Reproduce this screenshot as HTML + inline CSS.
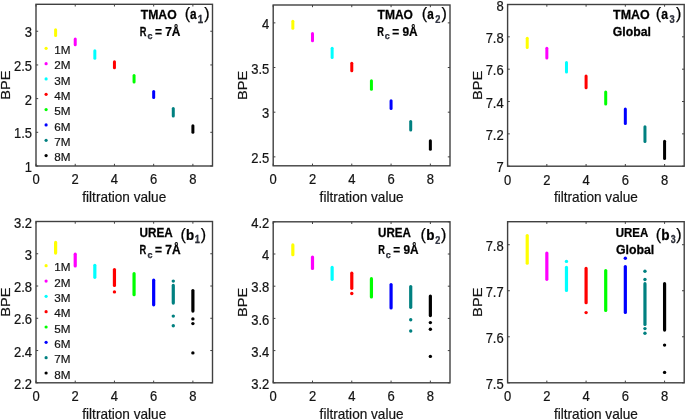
<!DOCTYPE html>
<html><head><meta charset="utf-8"><title>BPE vs filtration value</title>
<style>
html,body{margin:0;padding:0;background:#fff;}
body{width:685px;height:420px;overflow:hidden;}
svg{display:block;will-change:transform;}
text{font-family:"Liberation Sans",sans-serif;}
.tk,.lab,.lg{stroke:#141414;stroke-width:0.2px;}
.tk{font-size:13px;fill:#141414;}
.lab{font-size:14px;fill:#141414;}
.lg{font-size:11.7px;fill:#141414;}
.tt{font-size:12px;font-weight:bold;fill:#000;stroke:#000;stroke-width:0.25px;}
.tp{font-size:14px;font-weight:bold;fill:#000;}
.sb{font-size:10.5px;fill:#1c2d4a;}
.sc{font-size:10px;fill:#1c2d4a;}
</style></head>
<body>
<svg width="685" height="420" viewBox="0 0 685 420">
<rect x="0" y="0" width="685" height="420" fill="#fff"/>
<line x1="55.61" y1="29.7" x2="55.61" y2="35.6" stroke="#ffff00" stroke-width="3.0" stroke-linecap="round"/>
<line x1="75.22" y1="39" x2="75.22" y2="44.8" stroke="#ff00ff" stroke-width="3.0" stroke-linecap="round"/>
<line x1="94.83" y1="50.7" x2="94.83" y2="58.2" stroke="#00ffff" stroke-width="3.0" stroke-linecap="round"/>
<line x1="114.44" y1="61.8" x2="114.44" y2="67.7" stroke="#ff0000" stroke-width="3.0" stroke-linecap="round"/>
<line x1="134.06" y1="75.5" x2="134.06" y2="82.1" stroke="#00ff00" stroke-width="3.0" stroke-linecap="round"/>
<line x1="153.67" y1="91.4" x2="153.67" y2="97.6" stroke="#0000ff" stroke-width="3.0" stroke-linecap="round"/>
<line x1="173.28" y1="108.6" x2="173.28" y2="115.9" stroke="#008080" stroke-width="3.0" stroke-linecap="round"/>
<line x1="192.89" y1="125.7" x2="192.89" y2="132.3" stroke="#000000" stroke-width="3.0" stroke-linecap="round"/>
<rect x="36" y="4.3" width="176.5" height="161.7" fill="none" stroke="#404040" stroke-width="1.4"/>
<line x1="36" y1="166" x2="36" y2="163.8" stroke="#404040" stroke-width="1"/>
<line x1="36" y1="4.3" x2="36" y2="6.5" stroke="#404040" stroke-width="1"/>
<text text-anchor="middle" class="tk" transform="translate(36 184.4) scale(1 1.1)">0</text>
<line x1="75.22" y1="166" x2="75.22" y2="163.8" stroke="#404040" stroke-width="1"/>
<line x1="75.22" y1="4.3" x2="75.22" y2="6.5" stroke="#404040" stroke-width="1"/>
<text text-anchor="middle" class="tk" transform="translate(75.22 184.4) scale(1 1.1)">2</text>
<line x1="114.44" y1="166" x2="114.44" y2="163.8" stroke="#404040" stroke-width="1"/>
<line x1="114.44" y1="4.3" x2="114.44" y2="6.5" stroke="#404040" stroke-width="1"/>
<text text-anchor="middle" class="tk" transform="translate(114.44 184.4) scale(1 1.1)">4</text>
<line x1="153.67" y1="166" x2="153.67" y2="163.8" stroke="#404040" stroke-width="1"/>
<line x1="153.67" y1="4.3" x2="153.67" y2="6.5" stroke="#404040" stroke-width="1"/>
<text text-anchor="middle" class="tk" transform="translate(153.67 184.4) scale(1 1.1)">6</text>
<line x1="192.89" y1="166" x2="192.89" y2="163.8" stroke="#404040" stroke-width="1"/>
<line x1="192.89" y1="4.3" x2="192.89" y2="6.5" stroke="#404040" stroke-width="1"/>
<text text-anchor="middle" class="tk" transform="translate(192.89 184.4) scale(1 1.1)">8</text>
<line x1="36" y1="166" x2="38.2" y2="166" stroke="#404040" stroke-width="1"/>
<line x1="212.5" y1="166" x2="210.3" y2="166" stroke="#404040" stroke-width="1"/>
<text text-anchor="end" class="tk" transform="translate(32.1 172.12) scale(1 1.1)">1</text>
<line x1="36" y1="132.31" x2="38.2" y2="132.31" stroke="#404040" stroke-width="1"/>
<line x1="212.5" y1="132.31" x2="210.3" y2="132.31" stroke="#404040" stroke-width="1"/>
<text text-anchor="end" class="tk" transform="translate(32.1 138.43) scale(1 1.1)">1.5</text>
<line x1="36" y1="98.62" x2="38.2" y2="98.62" stroke="#404040" stroke-width="1"/>
<line x1="212.5" y1="98.62" x2="210.3" y2="98.62" stroke="#404040" stroke-width="1"/>
<text text-anchor="end" class="tk" transform="translate(32.1 104.74) scale(1 1.1)">2</text>
<line x1="36" y1="64.94" x2="38.2" y2="64.94" stroke="#404040" stroke-width="1"/>
<line x1="212.5" y1="64.94" x2="210.3" y2="64.94" stroke="#404040" stroke-width="1"/>
<text text-anchor="end" class="tk" transform="translate(32.1 71.05) scale(1 1.1)">2.5</text>
<line x1="36" y1="31.25" x2="38.2" y2="31.25" stroke="#404040" stroke-width="1"/>
<line x1="212.5" y1="31.25" x2="210.3" y2="31.25" stroke="#404040" stroke-width="1"/>
<text text-anchor="end" class="tk" transform="translate(32.1 37.37) scale(1 1.1)">3</text>
<text text-anchor="middle" class="lab" transform="translate(124.25 201.8) scale(0.973 1)">filtration value</text>
<text text-anchor="middle" class="lab" transform="translate(10.2 85.15) rotate(-90) scale(1.046 0.91)">BPE</text>
<line x1="292.84" y1="21.3" x2="292.84" y2="28.2" stroke="#ffff00" stroke-width="3.0" stroke-linecap="round"/>
<line x1="312.49" y1="33.5" x2="312.49" y2="40.8" stroke="#ff00ff" stroke-width="3.0" stroke-linecap="round"/>
<line x1="332.13" y1="48.3" x2="332.13" y2="57.4" stroke="#00ffff" stroke-width="3.0" stroke-linecap="round"/>
<line x1="351.78" y1="63.2" x2="351.78" y2="70.7" stroke="#ff0000" stroke-width="3.0" stroke-linecap="round"/>
<line x1="371.42" y1="80.8" x2="371.42" y2="89.2" stroke="#00ff00" stroke-width="3.0" stroke-linecap="round"/>
<line x1="391.07" y1="100.8" x2="391.07" y2="108.4" stroke="#0000ff" stroke-width="3.0" stroke-linecap="round"/>
<line x1="410.71" y1="121.6" x2="410.71" y2="129.9" stroke="#008080" stroke-width="3.0" stroke-linecap="round"/>
<line x1="430.36" y1="140.8" x2="430.36" y2="149.2" stroke="#000000" stroke-width="3.0" stroke-linecap="round"/>
<rect x="273.2" y="5" width="176.8" height="160.8" fill="none" stroke="#404040" stroke-width="1.4"/>
<line x1="273.2" y1="165.8" x2="273.2" y2="163.6" stroke="#404040" stroke-width="1"/>
<line x1="273.2" y1="5" x2="273.2" y2="7.2" stroke="#404040" stroke-width="1"/>
<text text-anchor="middle" class="tk" transform="translate(273.2 184.2) scale(1 1.1)">0</text>
<line x1="312.49" y1="165.8" x2="312.49" y2="163.6" stroke="#404040" stroke-width="1"/>
<line x1="312.49" y1="5" x2="312.49" y2="7.2" stroke="#404040" stroke-width="1"/>
<text text-anchor="middle" class="tk" transform="translate(312.49 184.2) scale(1 1.1)">2</text>
<line x1="351.78" y1="165.8" x2="351.78" y2="163.6" stroke="#404040" stroke-width="1"/>
<line x1="351.78" y1="5" x2="351.78" y2="7.2" stroke="#404040" stroke-width="1"/>
<text text-anchor="middle" class="tk" transform="translate(351.78 184.2) scale(1 1.1)">4</text>
<line x1="391.07" y1="165.8" x2="391.07" y2="163.6" stroke="#404040" stroke-width="1"/>
<line x1="391.07" y1="5" x2="391.07" y2="7.2" stroke="#404040" stroke-width="1"/>
<text text-anchor="middle" class="tk" transform="translate(391.07 184.2) scale(1 1.1)">6</text>
<line x1="430.36" y1="165.8" x2="430.36" y2="163.6" stroke="#404040" stroke-width="1"/>
<line x1="430.36" y1="5" x2="430.36" y2="7.2" stroke="#404040" stroke-width="1"/>
<text text-anchor="middle" class="tk" transform="translate(430.36 184.2) scale(1 1.1)">8</text>
<line x1="273.2" y1="156.87" x2="275.4" y2="156.87" stroke="#404040" stroke-width="1"/>
<line x1="450" y1="156.87" x2="447.8" y2="156.87" stroke="#404040" stroke-width="1"/>
<text text-anchor="end" class="tk" transform="translate(269.3 162.98) scale(1 1.1)">2.5</text>
<line x1="273.2" y1="112.2" x2="275.4" y2="112.2" stroke="#404040" stroke-width="1"/>
<line x1="450" y1="112.2" x2="447.8" y2="112.2" stroke="#404040" stroke-width="1"/>
<text text-anchor="end" class="tk" transform="translate(269.3 118.31) scale(1 1.1)">3</text>
<line x1="273.2" y1="67.53" x2="275.4" y2="67.53" stroke="#404040" stroke-width="1"/>
<line x1="450" y1="67.53" x2="447.8" y2="67.53" stroke="#404040" stroke-width="1"/>
<text text-anchor="end" class="tk" transform="translate(269.3 73.65) scale(1 1.1)">3.5</text>
<line x1="273.2" y1="22.87" x2="275.4" y2="22.87" stroke="#404040" stroke-width="1"/>
<line x1="450" y1="22.87" x2="447.8" y2="22.87" stroke="#404040" stroke-width="1"/>
<text text-anchor="end" class="tk" transform="translate(269.3 28.98) scale(1 1.1)">4</text>
<text text-anchor="middle" class="lab" transform="translate(361.6 201.6) scale(0.973 1)">filtration value</text>
<text text-anchor="middle" class="lab" transform="translate(247.4 85.4) rotate(-90) scale(1.046 0.91)">BPE</text>
<line x1="527.22" y1="38.3" x2="527.22" y2="47.4" stroke="#ffff00" stroke-width="3.0" stroke-linecap="round"/>
<line x1="546.84" y1="48.3" x2="546.84" y2="58.1" stroke="#ff00ff" stroke-width="3.0" stroke-linecap="round"/>
<line x1="566.47" y1="62.6" x2="566.47" y2="72.1" stroke="#00ffff" stroke-width="3.0" stroke-linecap="round"/>
<line x1="586.09" y1="76" x2="586.09" y2="87.8" stroke="#ff0000" stroke-width="3.0" stroke-linecap="round"/>
<line x1="605.71" y1="91.9" x2="605.71" y2="104.1" stroke="#00ff00" stroke-width="3.0" stroke-linecap="round"/>
<line x1="625.33" y1="109.1" x2="625.33" y2="123.4" stroke="#0000ff" stroke-width="3.0" stroke-linecap="round"/>
<line x1="644.96" y1="126.8" x2="644.96" y2="141.6" stroke="#008080" stroke-width="3.0" stroke-linecap="round"/>
<line x1="664.58" y1="141.2" x2="664.58" y2="158.5" stroke="#000000" stroke-width="3.0" stroke-linecap="round"/>
<rect x="507.6" y="4.5" width="176.6" height="161.7" fill="none" stroke="#404040" stroke-width="1.4"/>
<line x1="507.6" y1="166.2" x2="507.6" y2="164" stroke="#404040" stroke-width="1"/>
<line x1="507.6" y1="4.5" x2="507.6" y2="6.7" stroke="#404040" stroke-width="1"/>
<text text-anchor="middle" class="tk" transform="translate(507.6 184.6) scale(1 1.1)">0</text>
<line x1="546.84" y1="166.2" x2="546.84" y2="164" stroke="#404040" stroke-width="1"/>
<line x1="546.84" y1="4.5" x2="546.84" y2="6.7" stroke="#404040" stroke-width="1"/>
<text text-anchor="middle" class="tk" transform="translate(546.84 184.6) scale(1 1.1)">2</text>
<line x1="586.09" y1="166.2" x2="586.09" y2="164" stroke="#404040" stroke-width="1"/>
<line x1="586.09" y1="4.5" x2="586.09" y2="6.7" stroke="#404040" stroke-width="1"/>
<text text-anchor="middle" class="tk" transform="translate(586.09 184.6) scale(1 1.1)">4</text>
<line x1="625.33" y1="166.2" x2="625.33" y2="164" stroke="#404040" stroke-width="1"/>
<line x1="625.33" y1="4.5" x2="625.33" y2="6.7" stroke="#404040" stroke-width="1"/>
<text text-anchor="middle" class="tk" transform="translate(625.33 184.6) scale(1 1.1)">6</text>
<line x1="664.58" y1="166.2" x2="664.58" y2="164" stroke="#404040" stroke-width="1"/>
<line x1="664.58" y1="4.5" x2="664.58" y2="6.7" stroke="#404040" stroke-width="1"/>
<text text-anchor="middle" class="tk" transform="translate(664.58 184.6) scale(1 1.1)">8</text>
<line x1="507.6" y1="166.2" x2="509.8" y2="166.2" stroke="#404040" stroke-width="1"/>
<line x1="684.2" y1="166.2" x2="682" y2="166.2" stroke="#404040" stroke-width="1"/>
<text text-anchor="end" class="tk" transform="translate(503.7 172.31) scale(1 1.1)">7</text>
<line x1="507.6" y1="133.86" x2="509.8" y2="133.86" stroke="#404040" stroke-width="1"/>
<line x1="684.2" y1="133.86" x2="682" y2="133.86" stroke="#404040" stroke-width="1"/>
<text text-anchor="end" class="tk" transform="translate(503.7 139.97) scale(1 1.1)">7.2</text>
<line x1="507.6" y1="101.52" x2="509.8" y2="101.52" stroke="#404040" stroke-width="1"/>
<line x1="684.2" y1="101.52" x2="682" y2="101.52" stroke="#404040" stroke-width="1"/>
<text text-anchor="end" class="tk" transform="translate(503.7 107.63) scale(1 1.1)">7.4</text>
<line x1="507.6" y1="69.18" x2="509.8" y2="69.18" stroke="#404040" stroke-width="1"/>
<line x1="684.2" y1="69.18" x2="682" y2="69.18" stroke="#404040" stroke-width="1"/>
<text text-anchor="end" class="tk" transform="translate(503.7 75.3) scale(1 1.1)">7.6</text>
<line x1="507.6" y1="36.84" x2="509.8" y2="36.84" stroke="#404040" stroke-width="1"/>
<line x1="684.2" y1="36.84" x2="682" y2="36.84" stroke="#404040" stroke-width="1"/>
<text text-anchor="end" class="tk" transform="translate(503.7 42.96) scale(1 1.1)">7.8</text>
<line x1="507.6" y1="4.5" x2="509.8" y2="4.5" stroke="#404040" stroke-width="1"/>
<line x1="684.2" y1="4.5" x2="682" y2="4.5" stroke="#404040" stroke-width="1"/>
<text text-anchor="end" class="tk" transform="translate(503.7 10.62) scale(1 1.1)">8</text>
<text text-anchor="middle" class="lab" transform="translate(595.9 202) scale(0.973 1)">filtration value</text>
<text text-anchor="middle" class="lab" transform="translate(481.8 85.35) rotate(-90) scale(1.046 0.91)">BPE</text>
<line x1="55.61" y1="242.4" x2="55.61" y2="253.1" stroke="#ffff00" stroke-width="3.2" stroke-linecap="round"/>
<line x1="75.22" y1="254.2" x2="75.22" y2="265.9" stroke="#ff00ff" stroke-width="3.2" stroke-linecap="round"/>
<line x1="94.83" y1="265.3" x2="94.83" y2="277.3" stroke="#00ffff" stroke-width="3.2" stroke-linecap="round"/>
<line x1="114.44" y1="269.6" x2="114.44" y2="285.4" stroke="#ff0000" stroke-width="3.2" stroke-linecap="round"/>
<circle cx="114.44" cy="291.9" r="1.7" fill="#ff0000"/>
<line x1="134.06" y1="273.7" x2="134.06" y2="294.7" stroke="#00ff00" stroke-width="3.2" stroke-linecap="round"/>
<line x1="153.67" y1="280.2" x2="153.67" y2="304.8" stroke="#0000ff" stroke-width="3.2" stroke-linecap="round"/>
<line x1="173.28" y1="285.4" x2="173.28" y2="303.1" stroke="#008080" stroke-width="3.2" stroke-linecap="round"/>
<circle cx="173.28" cy="281.1" r="1.7" fill="#008080"/>
<circle cx="173.28" cy="316.1" r="1.7" fill="#008080"/>
<circle cx="173.28" cy="325.8" r="1.7" fill="#008080"/>
<line x1="192.89" y1="290.5" x2="192.89" y2="311.1" stroke="#000000" stroke-width="3.2" stroke-linecap="round"/>
<circle cx="192.89" cy="318.9" r="1.7" fill="#000000"/>
<circle cx="192.89" cy="323.6" r="1.7" fill="#000000"/>
<circle cx="192.89" cy="352.9" r="1.7" fill="#000000"/>
<rect x="36" y="221.5" width="176.5" height="161.3" fill="none" stroke="#404040" stroke-width="1.4"/>
<line x1="36" y1="382.8" x2="36" y2="380.6" stroke="#404040" stroke-width="1"/>
<line x1="36" y1="221.5" x2="36" y2="223.7" stroke="#404040" stroke-width="1"/>
<text text-anchor="middle" class="tk" transform="translate(36 401.2) scale(1 1.1)">0</text>
<line x1="75.22" y1="382.8" x2="75.22" y2="380.6" stroke="#404040" stroke-width="1"/>
<line x1="75.22" y1="221.5" x2="75.22" y2="223.7" stroke="#404040" stroke-width="1"/>
<text text-anchor="middle" class="tk" transform="translate(75.22 401.2) scale(1 1.1)">2</text>
<line x1="114.44" y1="382.8" x2="114.44" y2="380.6" stroke="#404040" stroke-width="1"/>
<line x1="114.44" y1="221.5" x2="114.44" y2="223.7" stroke="#404040" stroke-width="1"/>
<text text-anchor="middle" class="tk" transform="translate(114.44 401.2) scale(1 1.1)">4</text>
<line x1="153.67" y1="382.8" x2="153.67" y2="380.6" stroke="#404040" stroke-width="1"/>
<line x1="153.67" y1="221.5" x2="153.67" y2="223.7" stroke="#404040" stroke-width="1"/>
<text text-anchor="middle" class="tk" transform="translate(153.67 401.2) scale(1 1.1)">6</text>
<line x1="192.89" y1="382.8" x2="192.89" y2="380.6" stroke="#404040" stroke-width="1"/>
<line x1="192.89" y1="221.5" x2="192.89" y2="223.7" stroke="#404040" stroke-width="1"/>
<text text-anchor="middle" class="tk" transform="translate(192.89 401.2) scale(1 1.1)">8</text>
<line x1="36" y1="382.8" x2="38.2" y2="382.8" stroke="#404040" stroke-width="1"/>
<line x1="212.5" y1="382.8" x2="210.3" y2="382.8" stroke="#404040" stroke-width="1"/>
<text text-anchor="end" class="tk" transform="translate(32.1 388.92) scale(1 1.1)">2.2</text>
<line x1="36" y1="350.54" x2="38.2" y2="350.54" stroke="#404040" stroke-width="1"/>
<line x1="212.5" y1="350.54" x2="210.3" y2="350.54" stroke="#404040" stroke-width="1"/>
<text text-anchor="end" class="tk" transform="translate(32.1 356.66) scale(1 1.1)">2.4</text>
<line x1="36" y1="318.28" x2="38.2" y2="318.28" stroke="#404040" stroke-width="1"/>
<line x1="212.5" y1="318.28" x2="210.3" y2="318.28" stroke="#404040" stroke-width="1"/>
<text text-anchor="end" class="tk" transform="translate(32.1 324.4) scale(1 1.1)">2.6</text>
<line x1="36" y1="286.02" x2="38.2" y2="286.02" stroke="#404040" stroke-width="1"/>
<line x1="212.5" y1="286.02" x2="210.3" y2="286.02" stroke="#404040" stroke-width="1"/>
<text text-anchor="end" class="tk" transform="translate(32.1 292.14) scale(1 1.1)">2.8</text>
<line x1="36" y1="253.76" x2="38.2" y2="253.76" stroke="#404040" stroke-width="1"/>
<line x1="212.5" y1="253.76" x2="210.3" y2="253.76" stroke="#404040" stroke-width="1"/>
<text text-anchor="end" class="tk" transform="translate(32.1 259.88) scale(1 1.1)">3</text>
<line x1="36" y1="221.5" x2="38.2" y2="221.5" stroke="#404040" stroke-width="1"/>
<line x1="212.5" y1="221.5" x2="210.3" y2="221.5" stroke="#404040" stroke-width="1"/>
<text text-anchor="end" class="tk" transform="translate(32.1 227.62) scale(1 1.1)">3.2</text>
<text text-anchor="middle" class="lab" transform="translate(124.25 418.6) scale(0.973 1)">filtration value</text>
<text text-anchor="middle" class="lab" transform="translate(10.2 302.15) rotate(-90) scale(1.046 0.91)">BPE</text>
<line x1="292.84" y1="244.9" x2="292.84" y2="254.7" stroke="#ffff00" stroke-width="3.2" stroke-linecap="round"/>
<line x1="312.49" y1="257.1" x2="312.49" y2="268.4" stroke="#ff00ff" stroke-width="3.2" stroke-linecap="round"/>
<line x1="332.13" y1="267.4" x2="332.13" y2="279.3" stroke="#00ffff" stroke-width="3.2" stroke-linecap="round"/>
<line x1="351.78" y1="273.2" x2="351.78" y2="288.3" stroke="#ff0000" stroke-width="3.2" stroke-linecap="round"/>
<circle cx="351.78" cy="293.5" r="1.7" fill="#ff0000"/>
<line x1="371.42" y1="278.7" x2="371.42" y2="297" stroke="#00ff00" stroke-width="3.2" stroke-linecap="round"/>
<line x1="391.07" y1="284.6" x2="391.07" y2="308" stroke="#0000ff" stroke-width="3.2" stroke-linecap="round"/>
<line x1="410.71" y1="286.5" x2="410.71" y2="307.3" stroke="#008080" stroke-width="3.2" stroke-linecap="round"/>
<circle cx="410.71" cy="319.8" r="1.7" fill="#008080"/>
<circle cx="410.71" cy="331" r="1.7" fill="#008080"/>
<line x1="430.36" y1="296.1" x2="430.36" y2="315.6" stroke="#000000" stroke-width="3.2" stroke-linecap="round"/>
<circle cx="430.36" cy="322.6" r="1.7" fill="#000000"/>
<circle cx="430.36" cy="329.3" r="1.7" fill="#000000"/>
<circle cx="430.36" cy="356.4" r="1.7" fill="#000000"/>
<rect x="273.2" y="221.8" width="176.8" height="161" fill="none" stroke="#404040" stroke-width="1.4"/>
<line x1="273.2" y1="382.8" x2="273.2" y2="380.6" stroke="#404040" stroke-width="1"/>
<line x1="273.2" y1="221.8" x2="273.2" y2="224" stroke="#404040" stroke-width="1"/>
<text text-anchor="middle" class="tk" transform="translate(273.2 401.2) scale(1 1.1)">0</text>
<line x1="312.49" y1="382.8" x2="312.49" y2="380.6" stroke="#404040" stroke-width="1"/>
<line x1="312.49" y1="221.8" x2="312.49" y2="224" stroke="#404040" stroke-width="1"/>
<text text-anchor="middle" class="tk" transform="translate(312.49 401.2) scale(1 1.1)">2</text>
<line x1="351.78" y1="382.8" x2="351.78" y2="380.6" stroke="#404040" stroke-width="1"/>
<line x1="351.78" y1="221.8" x2="351.78" y2="224" stroke="#404040" stroke-width="1"/>
<text text-anchor="middle" class="tk" transform="translate(351.78 401.2) scale(1 1.1)">4</text>
<line x1="391.07" y1="382.8" x2="391.07" y2="380.6" stroke="#404040" stroke-width="1"/>
<line x1="391.07" y1="221.8" x2="391.07" y2="224" stroke="#404040" stroke-width="1"/>
<text text-anchor="middle" class="tk" transform="translate(391.07 401.2) scale(1 1.1)">6</text>
<line x1="430.36" y1="382.8" x2="430.36" y2="380.6" stroke="#404040" stroke-width="1"/>
<line x1="430.36" y1="221.8" x2="430.36" y2="224" stroke="#404040" stroke-width="1"/>
<text text-anchor="middle" class="tk" transform="translate(430.36 401.2) scale(1 1.1)">8</text>
<line x1="273.2" y1="382.8" x2="275.4" y2="382.8" stroke="#404040" stroke-width="1"/>
<line x1="450" y1="382.8" x2="447.8" y2="382.8" stroke="#404040" stroke-width="1"/>
<text text-anchor="end" class="tk" transform="translate(269.3 388.92) scale(1 1.1)">3.2</text>
<line x1="273.2" y1="350.6" x2="275.4" y2="350.6" stroke="#404040" stroke-width="1"/>
<line x1="450" y1="350.6" x2="447.8" y2="350.6" stroke="#404040" stroke-width="1"/>
<text text-anchor="end" class="tk" transform="translate(269.3 356.72) scale(1 1.1)">3.4</text>
<line x1="273.2" y1="318.4" x2="275.4" y2="318.4" stroke="#404040" stroke-width="1"/>
<line x1="450" y1="318.4" x2="447.8" y2="318.4" stroke="#404040" stroke-width="1"/>
<text text-anchor="end" class="tk" transform="translate(269.3 324.52) scale(1 1.1)">3.6</text>
<line x1="273.2" y1="286.2" x2="275.4" y2="286.2" stroke="#404040" stroke-width="1"/>
<line x1="450" y1="286.2" x2="447.8" y2="286.2" stroke="#404040" stroke-width="1"/>
<text text-anchor="end" class="tk" transform="translate(269.3 292.32) scale(1 1.1)">3.8</text>
<line x1="273.2" y1="254" x2="275.4" y2="254" stroke="#404040" stroke-width="1"/>
<line x1="450" y1="254" x2="447.8" y2="254" stroke="#404040" stroke-width="1"/>
<text text-anchor="end" class="tk" transform="translate(269.3 260.12) scale(1 1.1)">4</text>
<line x1="273.2" y1="221.8" x2="275.4" y2="221.8" stroke="#404040" stroke-width="1"/>
<line x1="450" y1="221.8" x2="447.8" y2="221.8" stroke="#404040" stroke-width="1"/>
<text text-anchor="end" class="tk" transform="translate(269.3 227.92) scale(1 1.1)">4.2</text>
<text text-anchor="middle" class="lab" transform="translate(361.6 418.6) scale(0.973 1)">filtration value</text>
<text text-anchor="middle" class="lab" transform="translate(247.4 302.3) rotate(-90) scale(1.046 0.91)">BPE</text>
<line x1="527.22" y1="235.5" x2="527.22" y2="263.2" stroke="#ffff00" stroke-width="3.2" stroke-linecap="round"/>
<line x1="546.84" y1="253" x2="546.84" y2="279.3" stroke="#ff00ff" stroke-width="3.2" stroke-linecap="round"/>
<line x1="566.47" y1="267.4" x2="566.47" y2="290.5" stroke="#00ffff" stroke-width="3.2" stroke-linecap="round"/>
<circle cx="566.47" cy="261.4" r="1.7" fill="#00ffff"/>
<line x1="586.09" y1="268.4" x2="586.09" y2="302.7" stroke="#ff0000" stroke-width="3.2" stroke-linecap="round"/>
<circle cx="586.09" cy="312.6" r="1.7" fill="#ff0000"/>
<line x1="605.71" y1="270.6" x2="605.71" y2="310.4" stroke="#00ff00" stroke-width="3.2" stroke-linecap="round"/>
<line x1="625.33" y1="266.5" x2="625.33" y2="312.5" stroke="#0000ff" stroke-width="3.2" stroke-linecap="round"/>
<circle cx="625.33" cy="258.2" r="1.7" fill="#0000ff"/>
<line x1="644.96" y1="283.7" x2="644.96" y2="324.4" stroke="#008080" stroke-width="3.2" stroke-linecap="round"/>
<circle cx="644.96" cy="271.3" r="1.7" fill="#008080"/>
<circle cx="644.96" cy="279.5" r="1.7" fill="#008080"/>
<circle cx="644.96" cy="328.6" r="1.7" fill="#008080"/>
<circle cx="644.96" cy="333.3" r="1.7" fill="#008080"/>
<line x1="664.58" y1="283.7" x2="664.58" y2="330.1" stroke="#000000" stroke-width="3.2" stroke-linecap="round"/>
<circle cx="664.58" cy="345.1" r="1.7" fill="#000000"/>
<circle cx="664.58" cy="372.4" r="1.7" fill="#000000"/>
<rect x="507.6" y="221.7" width="176.6" height="161.1" fill="none" stroke="#404040" stroke-width="1.4"/>
<line x1="507.6" y1="382.8" x2="507.6" y2="380.6" stroke="#404040" stroke-width="1"/>
<line x1="507.6" y1="221.7" x2="507.6" y2="223.9" stroke="#404040" stroke-width="1"/>
<text text-anchor="middle" class="tk" transform="translate(507.6 401.2) scale(1 1.1)">0</text>
<line x1="546.84" y1="382.8" x2="546.84" y2="380.6" stroke="#404040" stroke-width="1"/>
<line x1="546.84" y1="221.7" x2="546.84" y2="223.9" stroke="#404040" stroke-width="1"/>
<text text-anchor="middle" class="tk" transform="translate(546.84 401.2) scale(1 1.1)">2</text>
<line x1="586.09" y1="382.8" x2="586.09" y2="380.6" stroke="#404040" stroke-width="1"/>
<line x1="586.09" y1="221.7" x2="586.09" y2="223.9" stroke="#404040" stroke-width="1"/>
<text text-anchor="middle" class="tk" transform="translate(586.09 401.2) scale(1 1.1)">4</text>
<line x1="625.33" y1="382.8" x2="625.33" y2="380.6" stroke="#404040" stroke-width="1"/>
<line x1="625.33" y1="221.7" x2="625.33" y2="223.9" stroke="#404040" stroke-width="1"/>
<text text-anchor="middle" class="tk" transform="translate(625.33 401.2) scale(1 1.1)">6</text>
<line x1="664.58" y1="382.8" x2="664.58" y2="380.6" stroke="#404040" stroke-width="1"/>
<line x1="664.58" y1="221.7" x2="664.58" y2="223.9" stroke="#404040" stroke-width="1"/>
<text text-anchor="middle" class="tk" transform="translate(664.58 401.2) scale(1 1.1)">8</text>
<line x1="507.6" y1="382.8" x2="509.8" y2="382.8" stroke="#404040" stroke-width="1"/>
<line x1="684.2" y1="382.8" x2="682" y2="382.8" stroke="#404040" stroke-width="1"/>
<text text-anchor="end" class="tk" transform="translate(503.7 388.92) scale(1 1.1)">7.5</text>
<line x1="507.6" y1="336.77" x2="509.8" y2="336.77" stroke="#404040" stroke-width="1"/>
<line x1="684.2" y1="336.77" x2="682" y2="336.77" stroke="#404040" stroke-width="1"/>
<text text-anchor="end" class="tk" transform="translate(503.7 342.89) scale(1 1.1)">7.6</text>
<line x1="507.6" y1="290.74" x2="509.8" y2="290.74" stroke="#404040" stroke-width="1"/>
<line x1="684.2" y1="290.74" x2="682" y2="290.74" stroke="#404040" stroke-width="1"/>
<text text-anchor="end" class="tk" transform="translate(503.7 296.86) scale(1 1.1)">7.7</text>
<line x1="507.6" y1="244.71" x2="509.8" y2="244.71" stroke="#404040" stroke-width="1"/>
<line x1="684.2" y1="244.71" x2="682" y2="244.71" stroke="#404040" stroke-width="1"/>
<text text-anchor="end" class="tk" transform="translate(503.7 250.83) scale(1 1.1)">7.8</text>
<text text-anchor="middle" class="lab" transform="translate(595.9 418.6) scale(0.973 1)">filtration value</text>
<text text-anchor="middle" class="lab" transform="translate(481.8 302.25) rotate(-90) scale(1.046 0.91)">BPE</text>
<circle cx="46.1" cy="48.3" r="1.6" fill="#ffff00"/>
<text x="54.2" y="53.9" class="lg">1M</text>
<circle cx="46.1" cy="63.63" r="1.6" fill="#ff00ff"/>
<text x="54.2" y="69.23" class="lg">2M</text>
<circle cx="46.1" cy="78.96" r="1.6" fill="#00ffff"/>
<text x="54.2" y="84.56" class="lg">3M</text>
<circle cx="46.1" cy="94.29" r="1.6" fill="#ff0000"/>
<text x="54.2" y="99.89" class="lg">4M</text>
<circle cx="46.1" cy="109.62" r="1.6" fill="#00ff00"/>
<text x="54.2" y="115.22" class="lg">5M</text>
<circle cx="46.1" cy="124.95" r="1.6" fill="#0000ff"/>
<text x="54.2" y="130.55" class="lg">6M</text>
<circle cx="46.1" cy="140.28" r="1.6" fill="#008080"/>
<text x="54.2" y="145.88" class="lg">7M</text>
<circle cx="46.1" cy="155.61" r="1.6" fill="#000000"/>
<text x="54.2" y="161.21" class="lg">8M</text>
<circle cx="46.1" cy="265.7" r="1.6" fill="#ffff00"/>
<text x="54.2" y="271.3" class="lg">1M</text>
<circle cx="46.1" cy="281.03" r="1.6" fill="#ff00ff"/>
<text x="54.2" y="286.63" class="lg">2M</text>
<circle cx="46.1" cy="296.36" r="1.6" fill="#00ffff"/>
<text x="54.2" y="301.96" class="lg">3M</text>
<circle cx="46.1" cy="311.69" r="1.6" fill="#ff0000"/>
<text x="54.2" y="317.29" class="lg">4M</text>
<circle cx="46.1" cy="327.02" r="1.6" fill="#00ff00"/>
<text x="54.2" y="332.62" class="lg">5M</text>
<circle cx="46.1" cy="342.35" r="1.6" fill="#0000ff"/>
<text x="54.2" y="347.95" class="lg">6M</text>
<circle cx="46.1" cy="357.68" r="1.6" fill="#008080"/>
<text x="54.2" y="363.28" class="lg">7M</text>
<circle cx="46.1" cy="373.01" r="1.6" fill="#000000"/>
<text x="54.2" y="378.61" class="lg">8M</text>
<text class="tt" style="font-size:12px;" transform="translate(140.71 19) scale(1.0177 1)">TMAO</text>
<text class="tt" style="font-size:16px;font-weight:normal;" transform="translate(184.65 19.4) scale(1.0000 1)">(</text>
<text class="tt" style="font-size:13.2px;" transform="translate(190.1 19.3) scale(0.8951 1.12)">a</text>
<text class="tt" style="font-size:10px;fill:#343848;" transform="translate(197.74 22.8) scale(0.9671 1)">1</text>
<text class="tt" style="font-size:16px;font-weight:normal;" transform="translate(204.33 19.4) scale(1.0000 1)">)</text>
<text class="tt" style="font-size:12px;" transform="translate(139.73 35.7) scale(0.7746 1)">R</text>
<text class="tt" style="font-size:9px;fill:#343848;" transform="translate(147.5 39.4) scale(1.0000 1)">c</text>
<text class="tt" style="font-size:12px;" transform="translate(154.96 35.7) scale(0.9933 1)">= 7Å</text>
<text class="tt" style="font-size:12px;" transform="translate(377.62 18.6) scale(1.0004 1)">TMAO</text>
<text class="tt" style="font-size:16px;font-weight:normal;" transform="translate(421.85 19.3) scale(1.0000 1)">(</text>
<text class="tt" style="font-size:13.2px;" transform="translate(427.28 19.2) scale(0.8908 1.12)">a</text>
<text class="tt" style="font-size:10px;fill:#343848;" transform="translate(435.17 22.7) scale(0.9300 1)">2</text>
<text class="tt" style="font-size:16px;font-weight:normal;" transform="translate(441.45 19.3) scale(1.0000 1)">)</text>
<text class="tt" style="font-size:12px;" transform="translate(377.13 35.6) scale(0.7703 1)">R</text>
<text class="tt" style="font-size:9px;fill:#343848;" transform="translate(384.86 39.3) scale(1.0000 1)">c</text>
<text class="tt" style="font-size:12px;" transform="translate(392.28 35.6) scale(0.9882 1)">= 9Å</text>
<text class="tt" style="font-size:12px;" transform="translate(613.11 18.6) scale(1.0378 1)">TMAO</text>
<text class="tt" style="font-size:16px;font-weight:normal;" transform="translate(655.75 19.3) scale(1.0000 1)">(</text>
<text class="tt" style="font-size:13.2px;" transform="translate(661.32 19.2) scale(0.9212 1.12)">a</text>
<text class="tt" style="font-size:10px;fill:#343848;" transform="translate(669.57 22.7) scale(0.9327 1)">3</text>
<text class="tt" style="font-size:16px;font-weight:normal;" transform="translate(675.95 19.3) scale(1.0000 1)">)</text>
<text class="tt" style="font-size:12px;" transform="translate(612.75 35.7) scale(1.0224 1)">Global</text>
<text class="tt" style="font-size:12px;" transform="translate(139.55 237) scale(0.9768 1)">UREA</text>
<text class="tt" style="font-size:16px;font-weight:normal;" transform="translate(180.45 239.8) scale(1.0000 1)">(</text>
<text class="tt" style="font-size:14px;" transform="translate(186.07 239.7) scale(0.9497 1)">b</text>
<text class="tt" style="font-size:10px;fill:#343848;" transform="translate(194.77 243.2) scale(0.9241 1)">1</text>
<text class="tt" style="font-size:16px;font-weight:normal;" transform="translate(200.73 239.8) scale(1.0000 1)">)</text>
<text class="tt" style="font-size:12px;" transform="translate(139.62 254.4) scale(0.7788 1)">R</text>
<text class="tt" style="font-size:9px;fill:#343848;" transform="translate(147.44 258.1) scale(1.0000 1)">c</text>
<text class="tt" style="font-size:12px;" transform="translate(154.93 254.4) scale(0.9983 1)">= 7Å</text>
<text class="tt" style="font-size:12px;" transform="translate(378.05 236.6) scale(0.9677 1)">UREA</text>
<text class="tt" style="font-size:16px;font-weight:normal;" transform="translate(420.45 240.1) scale(1.0000 1)">(</text>
<text class="tt" style="font-size:14px;" transform="translate(426.13 240) scale(0.9629 1)">b</text>
<text class="tt" style="font-size:10px;fill:#343848;" transform="translate(435.21 243.5) scale(0.9062 1)">2</text>
<text class="tt" style="font-size:16px;font-weight:normal;" transform="translate(440.99 240.1) scale(1.0000 1)">)</text>
<text class="tt" style="font-size:12px;" transform="translate(378.13 254.1) scale(0.7681 1)">R</text>
<text class="tt" style="font-size:9px;fill:#343848;" transform="translate(385.84 257.8) scale(1.0000 1)">c</text>
<text class="tt" style="font-size:12px;" transform="translate(393.25 254.1) scale(0.9857 1)">= 9Å</text>
<text class="tt" style="font-size:12px;" transform="translate(615.76 236.6) scale(0.9586 1)">UREA</text>
<text class="tt" style="font-size:16px;font-weight:normal;" transform="translate(655.65 239.8) scale(1.0000 1)">(</text>
<text class="tt" style="font-size:14px;" transform="translate(661.37 239.7) scale(0.9718 1)">b</text>
<text class="tt" style="font-size:10px;fill:#343848;" transform="translate(670.64 243.2) scale(0.8862 1)">3</text>
<text class="tt" style="font-size:16px;font-weight:normal;" transform="translate(676.36 239.8) scale(1.0000 1)">)</text>
<text class="tt" style="font-size:12px;" transform="translate(615.94 253.6) scale(1.0279 1)">Global</text>
</svg>
</body></html>
